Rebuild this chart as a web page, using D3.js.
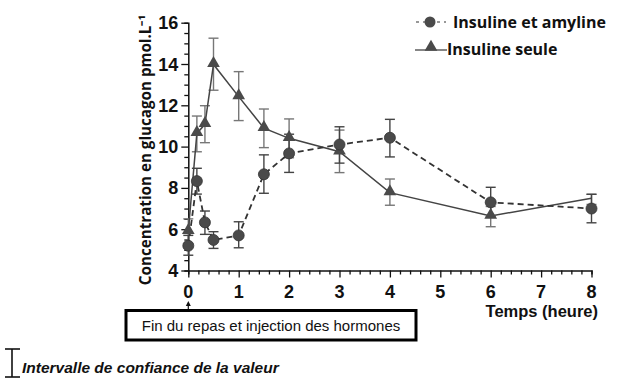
<!DOCTYPE html>
<html lang="fr">
<head>
<meta charset="utf-8">
<title>Glucagon</title>
<script src="https://cdn.jsdelivr.net/npm/d3@7"></script>
<style>
body { margin:0; background:#fff; }
text { font-family: "Liberation Sans", Arial, sans-serif; }
</style>
</head>
<body>
<script>
// temps (heure)
var times = [0, 0.17, 0.33, 0.5, 1, 1.5, 2, 3, 4, 6, 8];

// Insuline et amyline
var amyMean = [5.2, 8.33, 6.33, 5.48, 5.7, 8.66, 9.67, 10.1, 10.43, 7.3, 7.0];
var amyLow  = [4.74, 7.7, 5.75, 5.07, 5.1, 7.74, 8.75, 9.2, 9.5, 6.6, 6.31];
var amyHigh = [5.7, 8.95, 6.88, 5.88, 6.36, 9.6, 10.6, 10.96, 11.32, 8.03, 7.69];

// Insuline seule
var seuleMean = [5.9, 10.64, 11.08, 13.98, 12.42, 10.89, 10.4, 9.75, 7.77, 6.64, 7.5];
var seuleLow  = [5.3, 9.75, 10.19, 12.73, 11.26, 9.95, 9.46, 8.74, 7.16, 6.12, 7.2];
var seuleHigh = [6.5, 11.48, 11.98, 15.25, 13.63, 11.82, 11.34, 10.8, 8.43, 7.1, 7.69];
var seuleMarker = [1, 1, 1, 1, 1, 1, 1, 1, 1, 1, 0];

var xTicks = [0, 1, 2, 3, 4, 5, 6, 7, 8];
var yTicks = [4, 6, 8, 10, 12, 14, 16];

var W = 634, H = 382;
var svg = d3.select("body").append("svg").attr("width", W).attr("height", H);

var x = d3.scaleLinear().domain([0, 8]).range([188.3, 591.5]);
var y = d3.scaleLinear().domain([4, 16]).range([270.5, 22.7]);

// axes
var gx = svg.append("g").attr("transform", "translate(0," + y(4) + ")");
gx.call(d3.axisBottom(x).tickValues(d3.range(0, 8.01, 0.2)).tickSize(4).tickFormat(""));
gx.selectAll(".tick").filter(function(d) { return Math.abs(d - Math.round(d)) < 1e-6; })
  .select("line").attr("y2", 7);
gx.selectAll(".tick text").remove();
gx.selectAll("text.xl").data(xTicks).enter().append("text")
  .attr("x", function(d) { return x(d); }).attr("y", 27.5)
  .attr("text-anchor", "middle").attr("font-size", 18).attr("font-weight", "bold")
  .attr("fill", "#111").text(function(d) { return d; });

var gy = svg.append("g").attr("transform", "translate(" + x(0) + ",0)");
gy.call(d3.axisLeft(y).tickValues(d3.range(4, 16.01, 0.5)).tickSize(4).tickFormat(""));
gy.selectAll(".tick").filter(function(d) { return d % 2 === 0; }).select("line").attr("x2", -7);
gy.selectAll("text.yl").data(yTicks).enter().append("text")
  .attr("x", -10).attr("y", function(d) { return y(d) + 6.5; })
  .attr("text-anchor", "end").attr("font-size", 18).attr("font-weight", "bold")
  .attr("fill", "#111").text(function(d) { return d; });
svg.selectAll(".domain").attr("stroke", "#111").attr("stroke-width", 1.5);
svg.selectAll(".tick line").attr("stroke", "#111").attr("stroke-width", 1.3);

// axis titles
svg.append("text")
  .attr("transform", "translate(151,150) rotate(-90)")
  .attr("text-anchor", "middle").attr("font-size", 15.2).attr("font-weight", "bold")
  .attr("fill", "#111")
  .style("font-family", "'Open Sans', sans-serif")
  .text("Concentration en glucagon pmol.L\u207B\u00B9");

svg.append("text").attr("x", 598).attr("y", 317).attr("text-anchor", "end")
  .attr("font-size", 16.5).attr("font-weight", "bold").attr("fill", "#111")
  .text("Temps (heure)");

var seule = times.map(function(t, i) {
  return { t: t, m: seuleMean[i], lo: seuleLow[i], hi: seuleHigh[i], mk: seuleMarker[i] };
});
var amy = times.map(function(t, i) {
  return { t: t, m: amyMean[i], lo: amyLow[i], hi: amyHigh[i] };
});

function errBars(data, color) {
  var g = svg.append("g").attr("stroke", color).attr("stroke-width", 1.4).attr("fill", "none");
  data.forEach(function(d) {
    g.append("line").attr("x1", x(d.t)).attr("x2", x(d.t)).attr("y1", y(d.lo)).attr("y2", y(d.hi));
    g.append("line").attr("x1", x(d.t) - 5).attr("x2", x(d.t) + 5).attr("y1", y(d.lo)).attr("y2", y(d.lo));
    g.append("line").attr("x1", x(d.t) - 5).attr("x2", x(d.t) + 5).attr("y1", y(d.hi)).attr("y2", y(d.hi));
  });
}
errBars(seule, "#777");
errBars(amy, "#444");

var line = d3.line().x(function(d) { return x(d.t); }).y(function(d) { return y(d.m); });

svg.append("path").datum(seule).attr("d", line)
  .attr("fill", "none").attr("stroke", "#444").attr("stroke-width", 1.5);
svg.append("path").datum(amy).attr("d", line)
  .attr("fill", "none").attr("stroke", "#333").attr("stroke-width", 1.8)
  .attr("stroke-dasharray", "6,4");

var tri = d3.symbol().type(d3.symbolTriangle).size(70);
svg.selectAll("path.tri").data(seule.filter(function(d) { return d.mk; })).enter()
  .append("path").attr("class", "tri").attr("d", tri)
  .attr("transform", function(d) { return "translate(" + x(d.t) + "," + (y(d.m) - 1) + ")"; })
  .attr("fill", "#4a4a4a");

svg.selectAll("circle.amy").data(amy).enter().append("circle")
  .attr("cx", function(d) { return x(d.t); }).attr("cy", function(d) { return y(d.m); })
  .attr("r", 5.5).attr("fill", "#4a4a4a").attr("stroke", "#333").attr("stroke-width", 0.8);

// legend
var lg = svg.append("g");
lg.append("line").attr("x1", 416).attr("x2", 446).attr("y1", 22).attr("y2", 22)
  .attr("stroke", "#777").attr("stroke-width", 1.5).attr("stroke-dasharray", "3,4");
lg.append("circle").attr("cx", 430).attr("cy", 22).attr("r", 5.5).attr("fill", "#4a4a4a");
lg.append("text").attr("x", 453).attr("y", 28).attr("font-size", 16).attr("font-weight", "bold")
  .attr("fill", "#111").style("font-family", "'Open Sans', sans-serif").text("Insuline et amyline");
lg.append("line").attr("x1", 415).attr("x2", 447).attr("y1", 50).attr("y2", 50)
  .attr("stroke", "#444").attr("stroke-width", 1.3);
lg.append("path").attr("d", tri).attr("transform", "translate(431,47)").attr("fill", "#4a4a4a");
lg.append("text").attr("x", 447).attr("y", 55).attr("font-size", 16).attr("font-weight", "bold")
  .attr("fill", "#111").style("font-family", "'Open Sans', sans-serif").text("Insuline seule");

// annotation box
svg.append("line").attr("x1", x(0)).attr("x2", x(0)).attr("y1", 310).attr("y2", 304)
  .attr("stroke", "#111").attr("stroke-width", 1.2);
svg.append("path").attr("d", "M" + (x(0) - 2.5) + ",306 L" + x(0) + ",301 L" + (x(0) + 2.5) + ",306 Z")
  .attr("fill", "#111");
svg.append("rect").attr("x", 126).attr("y", 310.5).attr("width", 290).attr("height", 29.5)
  .attr("fill", "#fff").attr("stroke", "#000").attr("stroke-width", 3);
svg.append("text").attr("x", 271).attr("y", 331).attr("text-anchor", "middle")
  .attr("font-size", 15).attr("fill", "#111").text("Fin du repas et injection des hormones");

// error bar key
var k = svg.append("g").attr("stroke", "#111").attr("stroke-width", 1.6);
k.append("line").attr("x1", 12).attr("x2", 12).attr("y1", 349).attr("y2", 377);
k.append("line").attr("x1", 5).attr("x2", 20).attr("y1", 349).attr("y2", 349);
k.append("line").attr("x1", 5).attr("x2", 20).attr("y1", 377).attr("y2", 377);
svg.append("text").attr("x", 22).attr("y", 373).attr("font-size", 15.5)
  .attr("font-weight", "bold").attr("font-style", "italic").attr("fill", "#111")
  .text("Intervalle de confiance de la valeur");
</script>
</body>
</html>
